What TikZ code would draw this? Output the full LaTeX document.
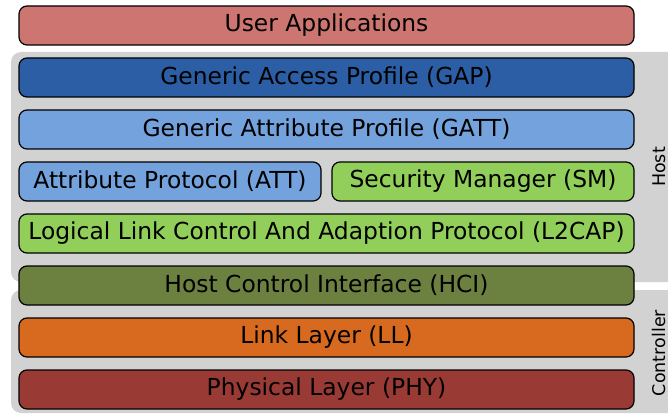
\documentclass[tikz,border=0pt]{standalone}
\usepackage{fontspec}
\setmainfont{DejaVu Sans}
\definecolor{appc}{RGB}{205,117,112}
\definecolor{gapc}{RGB}{43,94,164}
\definecolor{gattc}{RGB}{115,162,220}
\definecolor{smc}{RGB}{146,207,90}
\definecolor{hcic}{RGB}{108,128,64}
\definecolor{llc}{RGB}{216,106,32}
\definecolor{phyc}{RGB}{154,58,53}
\definecolor{regionc}{RGB}{210,210,210}
\tikzset{
  layer/.style={draw=black, line width=1.2pt, rounded corners=8pt, inner sep=0pt,
    minimum height=39pt, font=\fontsize{23.4}{27}\selectfont, text=black},
  region/.style={fill=regionc, rounded corners=10pt},
  side/.style={rotate=90, anchor=base, inner sep=0pt, font=\fontsize{17.5}{21}\selectfont, text=black}
}
\begin{document}
\begin{tikzpicture}[x=1pt, y=-1pt]
\useasboundingbox (0,0) rectangle (668,414);
% host and controller backgrounds
\fill[region] (11,52) rectangle (700,282);
\fill[region] (11,290) rectangle (700,413);
\node[side] (host) at (665.5,167) {Host};
\node[side] (ctrl) at (665.5,353) {Controller};
% protocol stack
\node[layer, fill=appc,  minimum width=615pt] (app)   at (326.5,25.5)  {User Applications};
\node[layer, fill=gapc,  minimum width=615pt] (gap)   at (326.5,77.5)  {Generic Access Profile (GAP)};
\node[layer, fill=gattc, minimum width=615pt] (gatt)  at (326.5,129.5) {Generic Attribute Profile (GATT)};
\node[layer, fill=gattc, minimum width=302pt] (att)   at (170,181.5)   {Attribute Protocol (ATT)};
\node[layer, fill=smc,   minimum width=302pt] (sm)    at (483,181.5)   {Security Manager (SM)};
\node[layer, fill=smc,   minimum width=615pt] (l2cap) at (326.5,233.5) {Logical Link Control And Adaption Protocol (L2CAP)};
\node[layer, fill=hcic,  minimum width=615pt] (hci)   at (326.5,285.5) {Host Control Interface (HCI)};
\node[layer, fill=llc,   minimum width=615pt] (ll)    at (326.5,337.5) {Link Layer (LL)};
\node[layer, fill=phyc,  minimum width=615pt] (phy)   at (326.5,389.5) {Physical Layer (PHY)};
\end{tikzpicture}
\end{document}
